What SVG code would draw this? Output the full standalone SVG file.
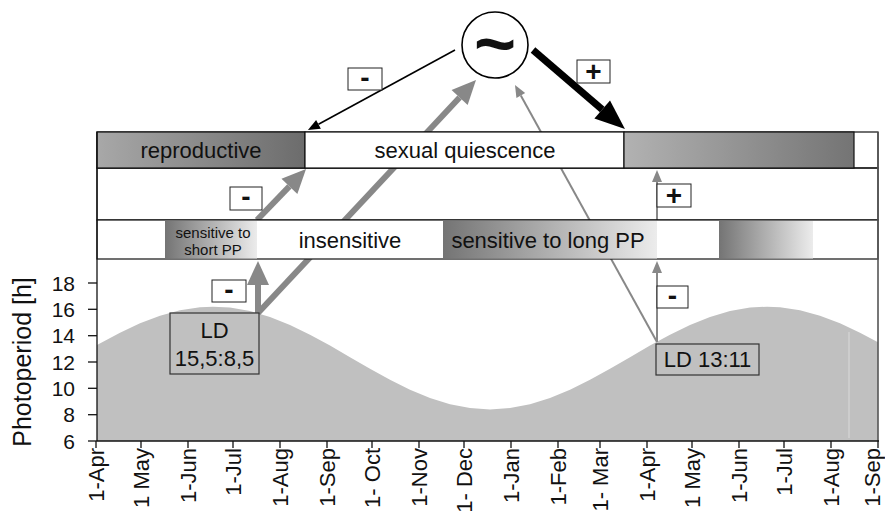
<svg xmlns="http://www.w3.org/2000/svg" width="885" height="515" viewBox="0 0 885 515">
<style>
text{font-family:"Liberation Sans",Arial,sans-serif;fill:#111}
.band{font-size:22px;text-anchor:middle}
.small{font-size:15px;text-anchor:middle}
.sign{font-size:28px;font-weight:bold;text-anchor:middle}
.ytick{font-size:21px;text-anchor:end}
.month{font-size:22px;text-anchor:end}
.ld{font-size:22px;text-anchor:middle}
.box{fill:#fff;stroke:#222;stroke-width:1}
.row{fill:#fff;stroke:#111;stroke-width:1.2}
.ldbox{fill:#c0c0c0;stroke:#333;stroke-width:1.2}
.tick{stroke:#111;stroke-width:1.3}
</style>
<defs>
<linearGradient id="gRepro" x1="0" x2="1" y1="0" y2="0"><stop offset="0" stop-color="#a8a8a8"/><stop offset="1" stop-color="#6c6c6c"/></linearGradient>
<linearGradient id="gRepro2" x1="0" x2="1" y1="0" y2="0"><stop offset="0" stop-color="#b2b2b2"/><stop offset="1" stop-color="#747474"/></linearGradient>
<linearGradient id="gSens" x1="0" x2="1" y1="0" y2="0"><stop offset="0" stop-color="#747474"/><stop offset="1" stop-color="#ececec"/></linearGradient>
<marker id="mBlackBig" markerUnits="userSpaceOnUse" markerWidth="32" markerHeight="26" refX="0" refY="0" orient="auto" overflow="visible"><path d="M0,-12 L30,0 L0,12 Z" fill="#000"/></marker>
<marker id="mBlackSmall" markerUnits="userSpaceOnUse" markerWidth="14" markerHeight="12" refX="0" refY="0" orient="auto" overflow="visible"><path d="M0,-5 L12,0 L0,5 Z" fill="#000"/></marker>
<marker id="mGrayBig" markerUnits="userSpaceOnUse" markerWidth="26" markerHeight="24" refX="0" refY="0" orient="auto" overflow="visible"><path d="M0,-11 L24,0 L0,11 Z" fill="#888"/></marker>
<marker id="mGraySmall" markerUnits="userSpaceOnUse" markerWidth="14" markerHeight="12" refX="0" refY="0" orient="auto" overflow="visible"><path d="M0,-5 L12,0 L0,5 Z" fill="#888"/></marker>
</defs>
<rect width="885" height="515" fill="#fff"/>

<g id="photoperiod-curve">
<path d="M97,441 L97,345.1 L120,332.7 L140,323.3 L160,315.7 L180,310.2 L200,307.2 L213,306.7 L230,307.6 L250,311.1 L270,317 L290,325 L310,334.7 L330,345.6 L350,357.2 L370,368.7 L390,379.8 L410,389.7 L430,398 L450,404.2 L470,408.1 L490,409.4 L510,408.1 L530,404.2 L550,398 L570,389.7 L590,379.8 L610,368.7 L630,357.2 L650,345.6 L670,334.7 L690,325 L710,317 L730,311.1 L750,307.6 L767,306.7 L780,307.2 L800,310.2 L820,315.7 L840,323.3 L860,332.7 L878,342.3 L878,441 Z" fill="#c0c0c0"/>
<line x1="849" y1="332" x2="849" y2="438" stroke="#dadada" stroke-width="1"/>
</g>

<g id="connectors">
<line x1="455" y1="50" x2="318.5" y2="124.3" stroke="#000" stroke-width="1.6" marker-end="url(#mBlackSmall)"/>
<line x1="533" y1="50" x2="602.2" y2="109.5" stroke="#000" stroke-width="7" marker-end="url(#mBlackBig)"/>
<line x1="258" y1="313" x2="459.6" y2="97.5" stroke="#888" stroke-width="6" marker-end="url(#mGrayBig)"/>
<line x1="257" y1="220" x2="289.4" y2="186.3" stroke="#888" stroke-width="6" marker-end="url(#mGrayBig)"/>
<line x1="258" y1="313" x2="258" y2="285" stroke="#888" stroke-width="6" marker-end="url(#mGrayBig)"/>
<line x1="657" y1="342" x2="520.8" y2="95.5" stroke="#888" stroke-width="2" marker-end="url(#mGraySmall)"/>
<line x1="657" y1="342" x2="657" y2="273" stroke="#888" stroke-width="2" marker-end="url(#mGraySmall)"/>
<line x1="657" y1="220" x2="657" y2="182" stroke="#888" stroke-width="2" marker-end="url(#mGraySmall)"/>
</g>

<g id="bands">
<rect class="row" x="97" y="132" width="781" height="36"/>
<rect x="97" y="168" width="781" height="52" fill="none" stroke="#111" stroke-width="1.2"/>
<rect class="row" x="97" y="220" width="781" height="39"/>
</g>

<g id="reproductive">
<rect x="97" y="132" width="208" height="36" fill="url(#gRepro)" stroke="#111" stroke-width="1.2"/>
<text class="band" x="201" y="158">reproductive</text>
</g>
<g id="sexual-quiescence">
<rect x="305" y="132" width="319" height="36" fill="#fff" stroke="#111" stroke-width="1.2"/>
<text class="band" x="465" y="158">sexual quiescence</text>
</g>
<g id="reproductive-2">
<rect x="624" y="132" width="230" height="36" fill="url(#gRepro2)" stroke="#111" stroke-width="1.2"/>
</g>
<g id="sensitive-short">
<rect x="165" y="221" width="92" height="37.5" fill="url(#gSens)"/>
<text class="small" x="213" y="238">sensitive to</text>
<text class="small" x="213" y="255">short PP</text>
</g>
<g id="insensitive">
<text class="band" x="350" y="248">insensitive</text>
</g>
<g id="sensitive-long">
<rect x="443" y="221" width="214" height="37.5" fill="url(#gSens)"/>
<text class="band" x="548" y="248">sensitive to long PP</text>
</g>
<g id="sensitive-2">
<rect x="719" y="221" width="94" height="37.5" fill="url(#gSens)"/>
</g>

<g id="axes">
<line x1="97" y1="132" x2="97" y2="441" stroke="#111" stroke-width="1.3"/>
<line x1="878" y1="132" x2="878" y2="441" stroke="#555" stroke-width="1.6"/>
<line x1="97" y1="441" x2="879" y2="441" stroke="#111" stroke-width="1.4"/>
<g class="tick">
<line x1="88" y1="283" x2="97" y2="283"/><line x1="88" y1="309.3" x2="97" y2="309.3"/><line x1="88" y1="335.7" x2="97" y2="335.7"/><line x1="88" y1="362" x2="97" y2="362"/><line x1="88" y1="388.3" x2="97" y2="388.3"/><line x1="88" y1="414.7" x2="97" y2="414.7"/><line x1="88" y1="441" x2="97" y2="441"/>
<line x1="96" y1="441" x2="96" y2="448"/><line x1="141" y1="441" x2="141" y2="448"/><line x1="188" y1="441" x2="188" y2="448"/><line x1="233" y1="441" x2="233" y2="448"/><line x1="280" y1="441" x2="280" y2="448"/><line x1="327" y1="441" x2="327" y2="448"/><line x1="372" y1="441" x2="372" y2="448"/><line x1="419" y1="441" x2="419" y2="448"/><line x1="464" y1="441" x2="464" y2="448"/><line x1="511" y1="441" x2="511" y2="448"/><line x1="558" y1="441" x2="558" y2="448"/><line x1="600" y1="441" x2="600" y2="448"/><line x1="647" y1="441" x2="647" y2="448"/><line x1="692" y1="441" x2="692" y2="448"/><line x1="739" y1="441" x2="739" y2="448"/><line x1="784" y1="441" x2="784" y2="448"/><line x1="831" y1="441" x2="831" y2="448"/><line x1="878" y1="441" x2="878" y2="448"/>
</g>
<text class="ytick" x="75" y="290.5">18</text>
<text class="ytick" x="75" y="316.8">16</text>
<text class="ytick" x="75" y="343.2">14</text>
<text class="ytick" x="75" y="369.5">12</text>
<text class="ytick" x="75" y="395.8">10</text>
<text class="ytick" x="75" y="422.2">8</text>
<text class="ytick" x="75" y="448.5">6</text>
<text x="31" y="362" font-size="25" text-anchor="middle" transform="rotate(-90 31 362)">Photoperiod [h]</text>
<text class="month" transform="translate(104,448) rotate(-90)">1-Apr</text>
<text class="month" transform="translate(149,448) rotate(-90)">1 May</text>
<text class="month" transform="translate(196,448) rotate(-90)">1-Jun</text>
<text class="month" transform="translate(241,448) rotate(-90)">1-Jul</text>
<text class="month" transform="translate(288,448) rotate(-90)">1-Aug</text>
<text class="month" transform="translate(335,448) rotate(-90)">1-Sep</text>
<text class="month" transform="translate(380,448) rotate(-90)">1- Oct</text>
<text class="month" transform="translate(427,448) rotate(-90)">1-Nov</text>
<text class="month" transform="translate(472,448) rotate(-90)">1- Dec</text>
<text class="month" transform="translate(519,448) rotate(-90)">1-Jan</text>
<text class="month" transform="translate(566,448) rotate(-90)">1-Feb</text>
<text class="month" transform="translate(608,448) rotate(-90)">1- Mar</text>
<text class="month" transform="translate(655,448) rotate(-90)">1-Apr</text>
<text class="month" transform="translate(700,448) rotate(-90)">1 May</text>
<text class="month" transform="translate(747,448) rotate(-90)">1-Jun</text>
<text class="month" transform="translate(792,448) rotate(-90)">1-Jul</text>
<text class="month" transform="translate(839,448) rotate(-90)">1-Aug</text>
<text class="month" transform="translate(880,448) rotate(-90)">1-Sep</text>
</g>

<g id="oscillator">
<circle cx="495" cy="45" r="33" fill="#fff" stroke="#000" stroke-width="1.6"/>
<text x="495" y="68" font-size="72" font-weight="bold" text-anchor="middle">~</text>
</g>

<g id="sign-1"><rect class="box" x="348" y="68" width="34" height="22"/><text class="sign" x="365" y="86.5">-</text></g>
<g id="sign-2"><rect class="box" x="577" y="60" width="33" height="23"/><text class="sign" x="593.5" y="81">+</text></g>
<g id="sign-3"><rect class="box" x="230" y="187" width="32" height="23"/><text class="sign" x="246" y="206">-</text></g>
<g id="sign-4"><rect class="box" x="657" y="184" width="34" height="23"/><text class="sign" x="674" y="205">+</text></g>
<g id="sign-5"><rect class="box" x="212" y="280" width="34" height="22"/><text class="sign" x="229" y="298.5">-</text></g>
<g id="sign-6"><rect class="box" x="657" y="286" width="31" height="22"/><text class="sign" x="672.5" y="304.5">-</text></g>

<g id="ld-long">
<rect class="ldbox" x="170" y="313" width="89" height="61"/>
<text class="ld" x="214.5" y="338">LD</text>
<text class="ld" x="214.5" y="366">15,5:8,5</text>
</g>
<g id="ld-short">
<rect class="ldbox" x="656" y="344" width="103" height="31"/>
<text class="ld" x="707.5" y="367">LD 13:11</text>
</g>
</svg>
